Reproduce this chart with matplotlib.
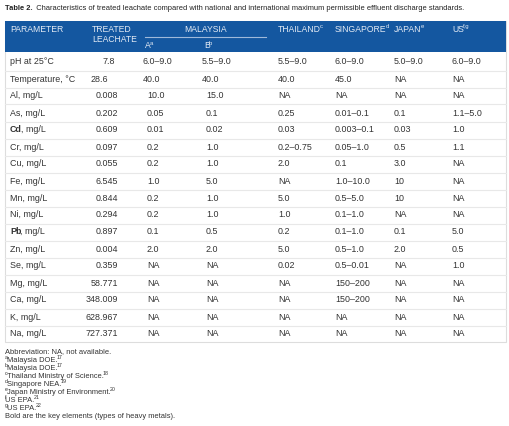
import matplotlib.pyplot as plt
from matplotlib.lines import Line2D
from matplotlib.patches import Rectangle

plt.rcParams['font.family'] = ['Liberation Sans', 'DejaVu Sans']

# table data
title_bold = "Table 2."
title_rest = "Characteristics of treated leachate compared with national and international maximum permissible effluent discharge standards."

parameters = ["pH at 25°C", "Temperature, °C", "Al, mg/L", "As, mg/L", "Cd, mg/L",
              "Cr, mg/L", "Cu, mg/L", "Fe, mg/L", "Mn, mg/L", "Ni, mg/L", "Pb, mg/L",
              "Zn, mg/L", "Se, mg/L", "Mg, mg/L", "Ca, mg/L", "K, mg/L", "Na, mg/L"]
key_elements = ["Cd", "Pb"]
treated = ["7.8", "28.6", "0.008", "0.202", "0.609", "0.097", "0.055", "6.545", "0.844",
           "0.294", "0.897", "0.004", "0.359", "58.771", "348.009", "628.967", "727.371"]
malaysia_a = ["6.0–9.0", "40.0", "10.0", "0.05", "0.01", "0.2", "0.2", "1.0", "0.2",
              "0.2", "0.1", "2.0", "NA", "NA", "NA", "NA", "NA"]
malaysia_b = ["5.5–9.0", "40.0", "15.0", "0.1", "0.02", "1.0", "1.0", "5.0", "1.0",
              "1.0", "0.5", "2.0", "NA", "NA", "NA", "NA", "NA"]
thailand = ["5.5–9.0", "40.0", "NA", "0.25", "0.03", "0.2–0.75", "2.0", "NA", "5.0",
            "1.0", "0.2", "5.0", "0.02", "NA", "NA", "NA", "NA"]
singapore = ["6.0–9.0", "45.0", "NA", "0.01–0.1", "0.003–0.1", "0.05–1.0", "0.1", "1.0–10.0", "0.5–5.0",
             "0.1–1.0", "0.1–1.0", "0.5–1.0", "0.5–0.01", "150–200", "150–200", "NA", "NA"]
japan = ["5.0–9.0", "NA", "NA", "0.1", "0.03", "0.5", "3.0", "10", "10",
         "NA", "0.1", "2.0", "NA", "NA", "NA", "NA", "NA"]
us = ["6.0–9.0", "NA", "NA", "1.1–5.0", "1.0", "1.1", "NA", "NA", "NA",
      "NA", "5.0", "0.5", "1.0", "NA", "NA", "NA", "NA"]

# (marker, text, reference number)
footnotes = [("", "Abbreviation: NA, not available.", ""),
             ("a", "Malaysia DOE.", "17"),
             ("b", "Malaysia DOE.", "17"),
             ("c", "Thailand Ministry of Science.", "18"),
             ("d", "Singapore NEA.", "19"),
             ("e", "Japan Ministry of Environment.", "20"),
             ("f", "US EPA.", "21"),
             ("g", "US EPA.", "22"),
             ("", "Bold are the key elements (types of heavy metals).", "")]

W, H = 510, 426
fig = plt.figure(figsize=(W / 100, H / 100), dpi=100)
fig.patch.set_facecolor('white')
renderer = fig.canvas.get_renderer()


def px(x, y):
    return x / W, 1 - y / H


def put(x, y, s, **kw):
    fx, fy = px(x, y)
    kw.setdefault('fontsize', 6.4)
    kw.setdefault('color', '#333333')
    kw.setdefault('va', 'center')
    return fig.text(fx, fy, s, **kw)


def put_runs(x, y, runs, size=6.4, color='#333333'):
    # runs: list of (text, kind) with kind 'n' normal, 'b' bold, 's' superscript
    for s, kind in runs:
        if not s:
            continue
        if kind == 's':
            t = put(x, y - 2.4, s, fontsize=size * 0.7, color=color)
        elif kind == 'b':
            t = put(x, y, s, fontsize=size, color=color, fontweight='bold')
        else:
            t = put(x, y, s, fontsize=size, color=color)
        x = t.get_window_extent(renderer).x1 - 1.0


def hline(x0, x1, y, color, lw=0.8):
    a, b = px(x0, y)
    c, d = px(x1, y)
    fig.add_artist(Line2D([a, c], [b, d], color=color, lw=lw, transform=fig.transFigure))


# title
put_runs(5, 8, [(title_bold, 'b'), ("  " + title_rest, 'n')], size=5.45, color='#222222')

# table frame and header band
left, right, top, bottom = 5, 506, 21, 342
fx, fy = px(left, bottom)
fig.add_artist(Rectangle((fx, fy), (right - left) / W, (bottom - top) / H,
                         transform=fig.transFigure, facecolor='white',
                         edgecolor='#dddddd', lw=0.8))
fx, fy = px(left, 51.5)
fig.add_artist(Rectangle((fx, fy), (right - left) / W, (51.5 - top) / H,
                         transform=fig.transFigure, facecolor='#1457a0',
                         edgecolor='none'))

hc = '#e4ebf5'
hs = 6.2
put(10, 29, "PARAMETER", color=hc, fontsize=hs)
put(92, 29, "TREATED", color=hc, fontsize=hs)
put(92, 40, "LEACHATE", color=hc, fontsize=hs)
put(206, 29, "MALAYSIA", color=hc, fontsize=hs, ha='center')
hline(145, 266, 37, '#9fb9da', lw=0.8)
put_runs(145, 46, [("A", 'n'), ("a", 's')], size=hs, color=hc)
put_runs(204, 46, [("B", 'n'), ("b", 's')], size=hs, color=hc)
put_runs(278, 29, [("THAILAND", 'n'), ("c", 's')], size=hs, color=hc)
put_runs(335, 29, [("SINGAPORE", 'n'), ("d", 's')], size=hs, color=hc)
put_runs(394, 29, [("JAPAN", 'n'), ("e", 's')], size=hs, color=hc)
put_runs(452, 29, [("US", 'n'), ("f,g", 's')], size=hs, color=hc)

# body rows
y0, step = 62, 17
for i, name in enumerate(parameters):
    y = y0 + i * step
    # the first two rows sit a little further left in the source table
    shift = -4 if i < 2 else 0
    t_right = {0: 115, 1: 108}.get(i, 118)
    element, comma, rest = name.partition(",")
    if element in key_elements:
        put_runs(10, y, [(element, 'b'), (comma + rest, 'n')])
    else:
        put(10, y, name)
    put(t_right, y, treated[i], ha='right')
    cols = [(147 + shift, malaysia_a), (206 + shift, malaysia_b), (278, thailand),
            (335, singapore), (394, japan), (452, us)]
    for x, vals in cols:
        put(x, y, vals[i])
    if i < len(parameters) - 1:
        hline(left, right, y + step / 2, '#e8e8e8', lw=0.8)

# footnotes
for j, (mark, text, ref) in enumerate(footnotes):
    put_runs(5, 352 + j * 8.0, [(mark, 's'), (text, 'n'), (ref, 's')], size=5.4)

fig.savefig('out.png', dpi=100)
